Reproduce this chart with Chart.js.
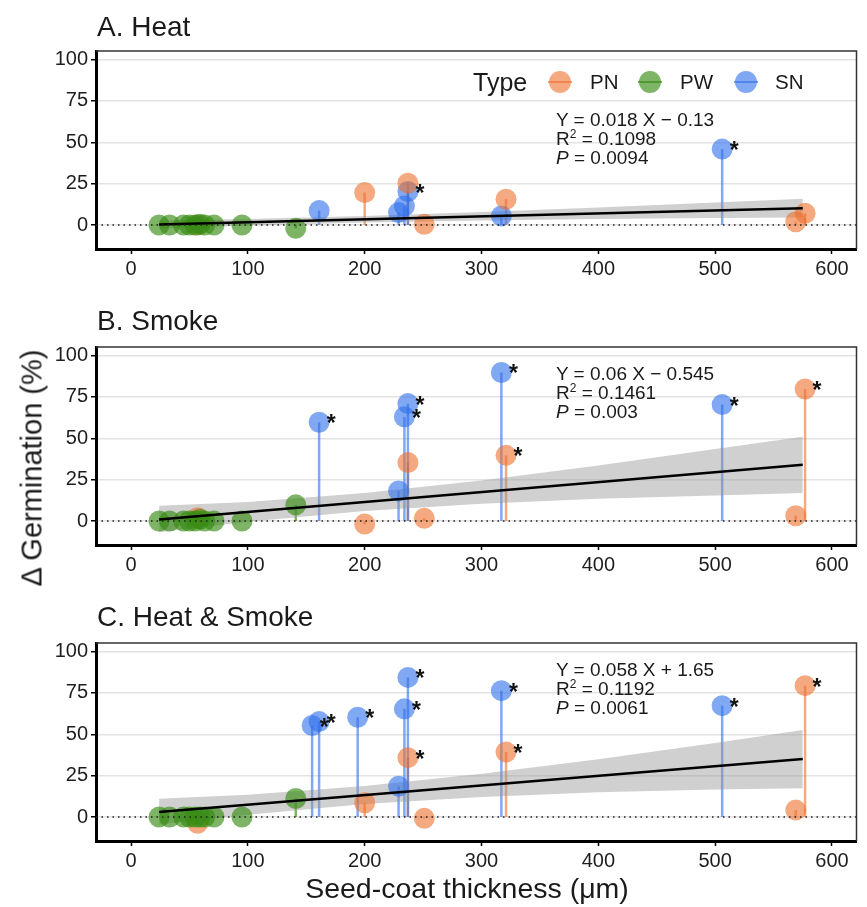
<!DOCTYPE html>
<html><head><meta charset="utf-8">
<script src="https://cdn.jsdelivr.net/npm/chart.js@4.4.0/dist/chart.umd.min.js"></script>
<style>
body{margin:0;background:#fff;width:867px;height:907px;position:relative;overflow:hidden;font-family:"Liberation Sans",Arial,sans-serif;color:#1a1a1a}
.pc{position:absolute;left:0;width:867px;height:296px}
.t{position:absolute;white-space:nowrap;line-height:1}
.ann{position:absolute;left:556px;font-size:19px;line-height:19px;white-space:nowrap;color:#1a1a1a}
.ann sup{font-size:12px;position:relative;top:-1px;vertical-align:top;line-height:12px}
</style></head><body>
<div class="pc" style="top:0"><canvas id="cA" width="867" height="296"></canvas></div>
<div class="pc" style="top:296px"><canvas id="cB" width="867" height="296"></canvas></div>
<div class="pc" style="top:592px"><canvas id="cC" width="867" height="296"></canvas></div>

<div class="t" style="left:97px;top:13px;font-size:28px">A. Heat</div>
<div class="t" style="left:97px;top:307px;font-size:28px">B. Smoke</div>
<div class="t" style="left:97px;top:603px;font-size:28px">C. Heat &amp; Smoke</div>

<div class="t" style="left:467px;top:874px;font-size:28.5px;transform:translateX(-50%)">Seed-coat thickness (μm)</div>
<div class="t" style="left:32px;top:468px;font-size:29px;transform:translate(-50%,-50%) rotate(-90deg)">Δ Germination (%)</div>

<div class="t" style="left:473px;top:70px;font-size:25px">Type</div>
<div class="t" style="left:590px;top:72px;font-size:20.5px">PN</div>
<div class="t" style="left:680px;top:72px;font-size:20.5px">PW</div>
<div class="t" style="left:775px;top:72px;font-size:20.5px">SN</div>

<div class="ann" style="top:110px">Y = 0.018 X − 0.13<br>R<sup>2</sup> = 0.1098<br><i>P</i> = 0.0094</div>
<div class="ann" style="top:364px">Y = 0.06 X − 0.545<br>R<sup>2</sup> = 0.1461<br><i>P</i> = 0.003</div>
<div class="ann" style="top:660px">Y = 0.058 X + 1.65<br>R<sup>2</sup> = 0.1192<br><i>P</i> = 0.0061</div>

<script>
// ---- data ----
const xTicks = [0, 100, 200, 300, 400, 500, 600];
const yTicks = [0, 25, 50, 75, 100];

const pwX = [24, 33, 45, 50, 55, 59, 63, 71, 95, 141];
const heatPW = [0, 0, 0, 0, 0, 0.5, 0, 0, 0, -2];
const smokePW = [0, 0, 0, 0, 0, 1, 0, 0, 0, 9.8];
const heatSmokePW = [0, 0, 0, 0, 0, 0, 0, 0, 0, 11.2];

const pnX = [57, 200, 237, 251, 321, 569, 577];
const heatPN = [0, 19.6, 25.3, 0.4, 15.6, 2, 7.1];
const smokePN = [2, -1.8, 35.3, 1.6, 39.7, 3.2, 79.8];
const heatSmokePN = [-3.8, 8.6, 35.9, -0.8, 39.3, 4.2, 79.4];

const snX = [155, 161, 194, 229, 234, 237, 317, 506];
const heatSN = [null, 8.7, null, 7.5, 11.5, 20.2, 5.5, 45.9];
const smokeSN = [null, 59.7, null, 18.2, 63, 71, 89.8, 70.4];
const heatSmokeSN = [55.3, 57.7, 60.3, 18.6, 65.4, 84.4, 76.4, 67.3];

const heatSigPN = [0, 0, 0, 0, 0, 0, 0];
const heatSigSN = [0, 0, 0, 0, 0, 1, 0, 1];
const smokeSigPN = [0, 0, 0, 0, 1, 0, 1];
const smokeSigSN = [0, 1, 0, 0, 1, 1, 1, 1];
const heatSmokeSigPN = [0, 0, 1, 0, 1, 0, 1];
const heatSmokeSigSN = [1, 1, 1, 0, 1, 1, 1, 1];

const fitX = [24, 575];
const fitHeat = [0.3, 10.2];
const fitSmoke = [0.9, 34];
const fitHeatSmoke = [3.0, 35];

const bandX = [24, 100, 200, 300, 400, 500, 575];
const heatUpper = [2.8, 3.7, 5.5, 7.8, 10.6, 13.6, 15.9];
const heatLower = [-2.2, -0.3, 1.5, 2.8, 3.6, 4.2, 4.5];
const smokeUpper = [9.2, 11.5, 17, 24.5, 33.5, 43.5, 51];
const smokeLower = [-6.8, -0.5, 6, 10.5, 13.5, 15.5, 17];
const heatSmokeUpper = [11, 13.4, 18.8, 26.1, 34.9, 44.7, 52.6];
const heatSmokeLower = [-4.5, 1.4, 7.8, 12.1, 14.9, 16.7, 17.4];

// ---- styling ----
const COL = {
  PN: 'rgba(237,112,45,0.6)',
  PW: 'rgba(55,140,20,0.65)',
  SN: 'rgba(45,110,235,0.6)'
};
const FONT = '"Liberation Sans", Arial, sans-serif';

function pts(xs, ys) {
  const out = [];
  xs.forEach((x, i) => { if (ys[i] !== null && ys[i] !== undefined) out.push({x: x, y: ys[i], i: i}); });
  return out;
}

const panelPlugin = {
  id: 'panelDeco',
  beforeDatasetsDraw(chart) {
    const {ctx, scales: {x, y}} = chart;
    const y0 = y.getPixelForValue(0);
    ctx.save();
    ctx.lineWidth = 2.5;
    chart.data.datasets.forEach((ds, di) => {
      if (!ds.stem) return;
      ctx.strokeStyle = ds.borderColor;
      ds.data.forEach(p => {
        const px = x.getPixelForValue(p.x);
        ctx.beginPath();
        ctx.moveTo(px, y0);
        ctx.lineTo(px, y.getPixelForValue(p.y));
        ctx.stroke();
      });
    });
    ctx.restore();
  },
  afterDatasetsDraw(chart) {
    const {ctx, chartArea: a, scales: {x, y}} = chart;
    const y0 = y.getPixelForValue(0);
    ctx.save();
    // dotted zero line
    ctx.strokeStyle = '#222';
    ctx.lineWidth = 1.5;
    ctx.setLineDash([1.5, 4]);
    ctx.beginPath();
    ctx.moveTo(a.left, y0);
    ctx.lineTo(a.right, y0);
    ctx.stroke();
    ctx.setLineDash([]);
    // stars
    ctx.fillStyle = '#111';
    ctx.font = 'bold 23px ' + FONT;
    ctx.textAlign = 'center';
    ctx.textBaseline = 'alphabetic';
    chart.data.datasets.forEach(ds => {
      if (!ds.sig) return;
      ds.data.forEach(p => {
        if (ds.sig[p.i]) {
          ctx.fillText('*', x.getPixelForValue(p.x) + 12, y.getPixelForValue(p.y) - 4 + 13);
        }
      });
    });
    // top & right border
    ctx.strokeStyle = '#333';
    ctx.lineWidth = 1.5;
    ctx.beginPath();
    ctx.moveTo(a.left, a.top);
    ctx.lineTo(a.right, a.top);
    ctx.lineTo(a.right, a.bottom);
    ctx.stroke();
    // legend keys (only panel A)
    if (chart.options.showLegendKeys) {
      [['PN', 560], ['PW', 650], ['SN', 746]].forEach(([k, cx]) => {
        ctx.fillStyle = COL[k];
        ctx.beginPath();
        ctx.arc(cx, 82, 11, 0, Math.PI * 2);
        ctx.fill();
        ctx.strokeStyle = COL[k];
        ctx.lineWidth = 2;
        ctx.beginPath();
        ctx.moveTo(cx - 12, 82);
        ctx.lineTo(cx + 12, 82);
        ctx.stroke();
      });
    }
    ctx.restore();
  }
};

function makePanel(id, pn, sn, pw, sigPN, sigSN, fit, upper, lower, legend) {
  const band = (ys) => bandX.map((x, i) => ({x: x, y: ys[i]}));
  new Chart(document.getElementById(id), {
    type: 'scatter',
    data: {
      datasets: [
        {label: 'PW', data: pts(pwX, pw), backgroundColor: COL.PW, borderColor: COL.PW, borderWidth: 0, pointRadius: 10.5, order: 3, stem: true},
        {label: 'PN', data: pts(pnX, pn), backgroundColor: COL.PN, borderColor: COL.PN, borderWidth: 0, pointRadius: 10.5, order: 4, stem: true, sig: sigPN},
        {label: 'SN', data: pts(snX, sn), backgroundColor: COL.SN, borderColor: COL.SN, borderWidth: 0, pointRadius: 10.5, order: 5, stem: true, sig: sigSN},
        {type: 'line', label: 'fit', data: fitX.map((x, i) => ({x: x, y: fit[i]})), borderColor: '#000', borderWidth: 2.5, pointRadius: 0, fill: false, order: 1},
        {type: 'line', label: 'lo', data: band(lower), borderWidth: 0, borderColor: 'rgba(0,0,0,0)', pointRadius: 0, fill: false, order: 8},
        {type: 'line', label: 'hi', data: band(upper), borderWidth: 0, borderColor: 'rgba(0,0,0,0)', pointRadius: 0, fill: '-1', backgroundColor: 'rgba(150,150,150,0.45)', order: 7}
      ]
    },
    options: {
      responsive: false,
      animation: false,
      showLegendKeys: legend,
      layout: {padding: {top: 51, right: 7, left: 0, bottom: 0}},
      plugins: {legend: {display: false}, tooltip: {enabled: false}},
      scales: {
        x: {
          type: 'linear', min: -30, max: 621,
          afterBuildTicks: s => { s.ticks = xTicks.map(v => ({value: v})); },
          afterFit: s => { s.height = 47; },
          ticks: {font: {size: 20, family: FONT}, color: '#1e1e1e', padding: 3, maxRotation: 0},
          grid: {drawOnChartArea: false, drawTicks: true, tickLength: 5, tickColor: '#000', tickWidth: 1.5},
          border: {display: true, color: '#000', width: 3}
        },
        y: {
          type: 'linear', min: -14.5, max: 105.2,
          afterBuildTicks: s => { s.ticks = yTicks.map(v => ({value: v})); },
          afterFit: s => { s.width = 96; },
          ticks: {font: {size: 20, family: FONT}, color: '#1e1e1e', padding: 3},
          grid: {color: '#e3e3e3', lineWidth: 1.5, drawTicks: true, tickLength: 5, tickColor: '#000', tickWidth: 1.5},
          border: {display: true, color: '#000', width: 3}
        }
      }
    },
    plugins: [panelPlugin]
  });
}

makePanel('cA', heatPN, heatSN, heatPW, heatSigPN, heatSigSN, fitHeat, heatUpper, heatLower, true);
makePanel('cB', smokePN, smokeSN, smokePW, smokeSigPN, smokeSigSN, fitSmoke, smokeUpper, smokeLower, false);
makePanel('cC', heatSmokePN, heatSmokeSN, heatSmokePW, heatSmokeSigPN, heatSmokeSigSN, fitHeatSmoke, heatSmokeUpper, heatSmokeLower, false);
</script>
</body></html>
